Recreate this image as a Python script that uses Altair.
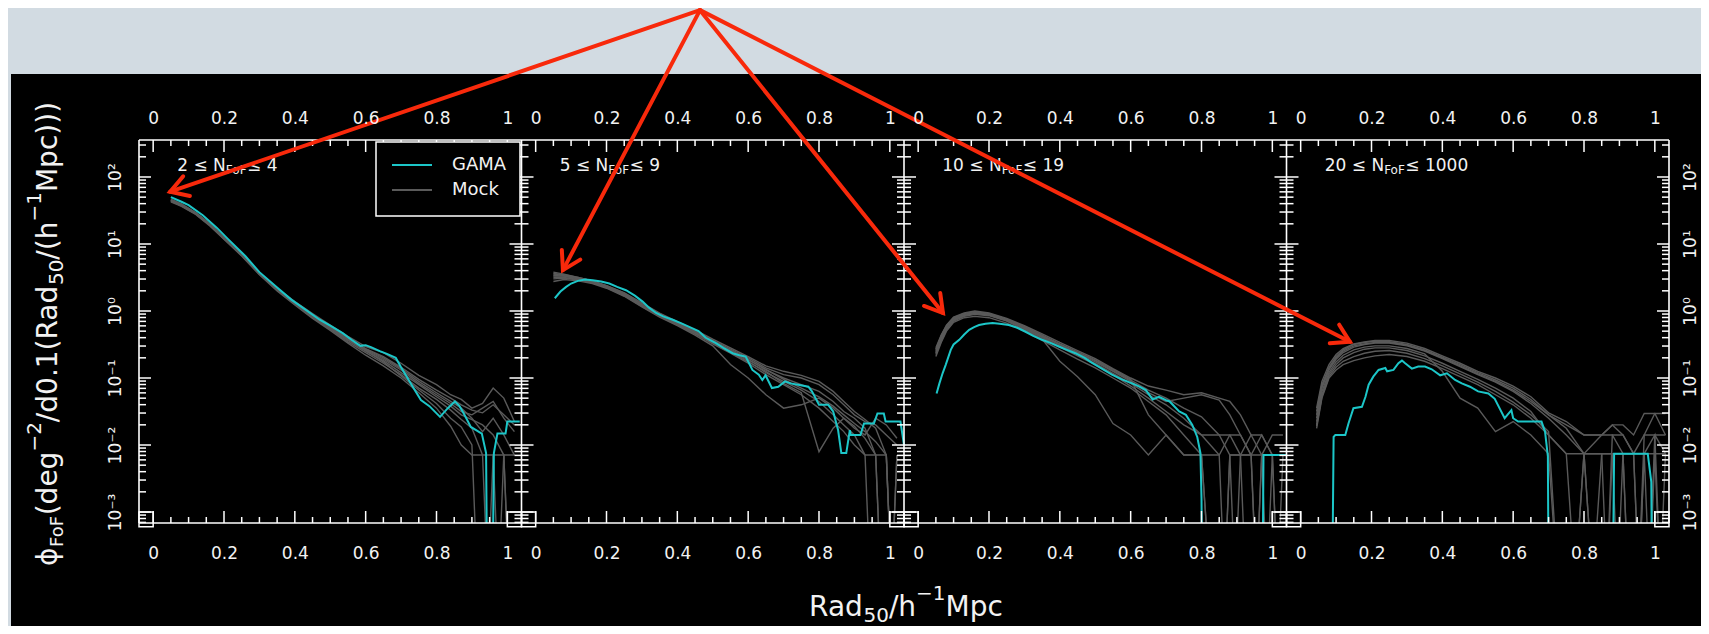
import math
import altair as alt
import pandas as pd

# ---------------- values ----------------
panel_lo = ["2", "5", "10", "20"]
panel_hi = ["4", "9", "19", "1000"]
xtick_major = [0.0, 0.2, 0.4, 0.6, 0.8, 1.0]
xtick_minor = [0.05, 0.1, 0.15, 0.25, 0.3, 0.35, 0.45, 0.5, 0.55, 0.65, 0.7, 0.75, 0.85, 0.9, 0.95]
ytick_exp = [-3, -2, -1, 0, 1, 2]
ytick_labels = ["10⁻³", "10⁻²", "10⁻¹", "10⁰", "10¹", "10²"]
legend_labels = ["GAMA", "Mock"]

# GAMA curves: Rad50 and log10(phi); -6 marks an empty bin (drops below the axis)
gama_x = [
    [0.05, 0.08, 0.10, 0.14, 0.18, 0.21, 0.26, 0.30, 0.35, 0.39, 0.43, 0.47, 0.50, 0.535, 0.56, 0.585, 0.60, 0.615, 0.64, 0.66,
     0.685, 0.70, 0.716, 0.735, 0.756, 0.78, 0.81, 0.832, 0.852, 0.865, 0.877, 0.897, 0.928, 0.94, 0.946, 0.955, 0.962, 0.972, 0.995, 1.0, 1.035],
    [0.054, 0.07, 0.086, 0.10, 0.119, 0.14, 0.161, 0.185, 0.208, 0.23, 0.255, 0.28, 0.302, 0.32, 0.34, 0.36, 0.387, 0.41, 0.443, 0.46,
     0.48, 0.509, 0.53, 0.556, 0.575, 0.593, 0.612, 0.63, 0.64, 0.649, 0.667, 0.685, 0.704, 0.72, 0.741, 0.77, 0.78, 0.80, 0.826, 0.84,
     0.854, 0.863, 0.877, 0.887, 0.89, 0.917, 0.927, 0.955, 0.965, 0.983, 0.988, 1.02, 1.03, 1.04],
    [0.052, 0.06, 0.069, 0.078, 0.092, 0.10, 0.116, 0.13, 0.144, 0.158, 0.172, 0.19, 0.21, 0.23, 0.256, 0.28, 0.303, 0.325, 0.35, 0.375,
     0.397, 0.42, 0.444, 0.47, 0.49, 0.515, 0.547, 0.575, 0.604, 0.625, 0.643, 0.662, 0.68, 0.70, 0.71, 0.737, 0.756, 0.774, 0.788, 0.797,
     0.80, 0.805, 0.97, 0.975, 1.04],
    [0.086, 0.093, 0.098, 0.126, 0.135, 0.149, 0.173, 0.183, 0.192, 0.205, 0.22, 0.239, 0.244, 0.262, 0.276, 0.286, 0.295, 0.314, 0.332, 0.351,
     0.37, 0.394, 0.413, 0.436, 0.455, 0.478, 0.501, 0.53, 0.548, 0.576, 0.595, 0.60, 0.614, 0.68, 0.69, 0.698, 0.702, 0.878, 0.885, 0.98,
     0.99, 0.995],
]
gama_lg = [
    [1.70, 1.63, 1.58, 1.43, 1.24, 1.08, 0.82, 0.58, 0.35, 0.17, 0.02, -0.13, -0.22, -0.33, -0.43, -0.52, -0.51, -0.54, -0.60, -0.64,
     -0.70, -0.84, -0.98, -1.15, -1.33, -1.42, -1.58, -1.45, -1.35, -1.42, -1.53, -1.73, -1.83, -2.12, -6, -6, -2.12, -1.83, -1.83, -1.65, -1.65],
    [0.19, 0.29, 0.36, 0.41, 0.45, 0.47, 0.46, 0.44, 0.41, 0.36, 0.31, 0.23, 0.14, 0.05, -0.03, -0.08, -0.13, -0.18, -0.26, -0.30,
     -0.40, -0.48, -0.55, -0.63, -0.66, -0.68, -0.88, -0.95, -1.03, -0.96, -1.15, -1.13, -1.05, -1.08, -1.10, -1.13, -1.20, -1.40, -1.40, -1.50,
     -1.78, -2.12, -2.12, -1.78, -1.85, -1.85, -1.68, -1.68, -1.53, -1.53, -1.65, -1.65, -1.65, -2.0],
    [-1.23, -1.08, -0.93, -0.80, -0.58, -0.50, -0.43, -0.35, -0.28, -0.24, -0.21, -0.19, -0.18, -0.19, -0.21, -0.25, -0.31, -0.37, -0.43, -0.48,
     -0.53, -0.58, -0.63, -0.70, -0.77, -0.85, -0.95, -1.02, -1.08, -1.13, -1.18, -1.32, -1.28, -1.33, -1.35, -1.50, -1.55, -1.70, -1.88, -2.12,
     -2.8, -6, -6, -2.15, -2.15],
    [-6, -1.88, -1.85, -1.85, -1.68, -1.45, -1.43, -1.28, -1.10, -0.98, -0.88, -0.85, -0.90, -0.88, -0.78, -0.74, -0.78, -0.86, -0.83, -0.83,
     -0.87, -0.96, -0.93, -1.03, -1.08, -1.13, -1.20, -1.23, -1.31, -1.60, -1.48, -1.60, -1.65, -1.65, -1.80, -2.17, -6, -6, -2.13, -2.13,
     -2.55, -6],
]

# Mock catalogues: eight lines per panel, log10(phi) at a shared Rad50 grid
mock_x = [
    [0.05, 0.08, 0.12, 0.16, 0.20, 0.25, 0.30, 0.35, 0.40, 0.45, 0.50, 0.55, 0.60, 0.65, 0.70, 0.75, 0.80, 0.84, 0.87, 0.90, 0.93, 0.96, 0.99, 1.02],
    [0.05, 0.08, 0.12, 0.16, 0.20, 0.25, 0.30, 0.35, 0.40, 0.45, 0.50, 0.55, 0.60, 0.65, 0.70, 0.75, 0.80, 0.84, 0.87, 0.90, 0.93, 0.96, 0.99, 1.02],
    [0.05, 0.065, 0.08, 0.10, 0.13, 0.16, 0.20, 0.25, 0.30, 0.35, 0.40, 0.45, 0.50, 0.55, 0.60, 0.65, 0.70, 0.75, 0.80, 0.85, 0.88, 0.91, 0.94, 0.97, 1.00, 1.03],
    [0.045, 0.06, 0.08, 0.10, 0.12, 0.15, 0.18, 0.21, 0.25, 0.30, 0.35, 0.40, 0.45, 0.50, 0.55, 0.60, 0.65, 0.70, 0.75, 0.80, 0.85, 0.88, 0.91, 0.94, 0.97, 1.00, 1.03],
]
mock_lg = [
    [
        [1.66, 1.58, 1.46, 1.29, 1.09, 0.84, 0.56, 0.33, 0.12, -0.07, -0.24, -0.42, -0.56, -0.68, -0.84, -1.02, -1.18, -1.30, -1.40, -1.48, -1.52, -1.40, -1.55, -1.70],
        [1.64, 1.57, 1.45, 1.28, 1.08, 0.83, 0.55, 0.31, 0.10, -0.10, -0.27, -0.46, -0.62, -0.78, -0.95, -1.15, -1.32, -1.48, -1.62, -1.75, -2.15, -2.15, -6, -6],
        [1.67, 1.60, 1.47, 1.30, 1.10, 0.85, 0.57, 0.34, 0.14, -0.04, -0.21, -0.38, -0.53, -0.62, -0.78, -0.96, -1.10, -1.25, -1.32, -1.45, -1.38, -1.15, -1.30, -1.65],
        [1.65, 1.58, 1.46, 1.29, 1.09, 0.84, 0.56, 0.32, 0.11, -0.08, -0.26, -0.44, -0.60, -0.74, -0.92, -1.10, -1.28, -1.42, -1.55, -1.62, -1.70, -1.85, -2.15, -6],
        [1.63, 1.56, 1.44, 1.27, 1.07, 0.82, 0.54, 0.30, 0.09, -0.11, -0.29, -0.48, -0.66, -0.82, -1.00, -1.22, -1.45, -1.72, -2.00, -2.15, -2.15, -6, -2.15, -2.15],
        [1.66, 1.59, 1.47, 1.30, 1.10, 0.85, 0.57, 0.33, 0.13, -0.05, -0.23, -0.41, -0.57, -0.70, -0.86, -1.05, -1.22, -1.35, -1.45, -1.60, -1.80, -1.60, -1.85, -2.15],
        [1.64, 1.57, 1.45, 1.28, 1.08, 0.83, 0.55, 0.32, 0.11, -0.09, -0.25, -0.43, -0.58, -0.72, -0.88, -1.08, -1.25, -1.38, -1.50, -1.55, -1.45, -1.35, -1.60, -1.80],
        [1.65, 1.58, 1.46, 1.29, 1.09, 0.84, 0.56, 0.33, 0.12, -0.06, -0.24, -0.42, -0.59, -0.76, -0.97, -1.18, -1.38, -1.60, -1.73, -2.00, -6, -2.15, -2.15, -6],
    ],
    [
        [0.58, 0.55, 0.50, 0.45, 0.38, 0.27, 0.11, -0.04, -0.17, -0.29, -0.44, -0.57, -0.70, -0.85, -0.95, -1.00, -1.10, -1.25, -1.40, -1.55, -1.65, -1.70, -1.85, -2.0],
        [0.52, 0.52, 0.48, 0.43, 0.36, 0.25, 0.09, -0.06, -0.19, -0.32, -0.47, -0.60, -0.75, -0.92, -1.05, -1.18, -1.35, -1.55, -1.70, -1.85, -2.15, -6, -6, -2.15],
        [0.55, 0.53, 0.49, 0.44, 0.37, 0.26, 0.10, -0.05, -0.18, -0.30, -0.45, -0.58, -0.72, -0.88, -1.00, -1.10, -1.20, -1.35, -1.50, -1.60, -1.75, -2.15, -6, -6],
        [0.48, 0.49, 0.46, 0.42, 0.35, 0.23, 0.07, -0.08, -0.21, -0.34, -0.49, -0.63, -0.78, -0.95, -1.10, -1.25, -1.45, -1.65, -1.80, -2.0, -2.15, -2.15, -6, -2.15],
        [0.44, 0.47, 0.45, 0.41, 0.34, 0.22, 0.06, -0.09, -0.22, -0.36, -0.52, -0.80, -1.00, -1.25, -1.45, -1.40, -1.30, -1.45, -1.60, -1.75, -1.85, -1.60, -1.70, -1.90],
        [0.56, 0.54, 0.50, 0.45, 0.38, 0.27, 0.12, -0.03, -0.16, -0.28, -0.42, -0.55, -0.68, -0.82, -0.90, -0.96, -1.05, -1.20, -1.35, -1.50, -1.62, -1.75, -2.15, -6],
        [0.50, 0.50, 0.47, 0.43, 0.36, 0.24, 0.08, -0.07, -0.20, -0.33, -0.48, -0.62, -0.76, -0.90, -1.08, -1.22, -2.10, -1.75, -1.60, -1.72, -1.90, -2.15, -2.15, -6],
        [0.53, 0.52, 0.48, 0.44, 0.37, 0.25, 0.09, -0.06, -0.19, -0.31, -0.46, -0.59, -0.73, -0.87, -1.02, -1.15, -1.28, -1.42, -1.55, -1.68, -1.80, -1.95, -2.15, -6],
    ],
    [
        [-0.55, -0.36, -0.21, -0.09, -0.03, 0.00, -0.03, -0.11, -0.22, -0.34, -0.47, -0.59, -0.71, -0.86, -1.00, -1.12, -1.18, -1.25, -1.22, -1.30, -1.35, -1.55, -1.85, -1.85, -2.15, -2.15],
        [-0.62, -0.42, -0.26, -0.13, -0.06, -0.03, -0.06, -0.14, -0.27, -0.40, -0.53, -0.65, -0.78, -0.93, -1.08, -1.25, -1.40, -1.60, -1.85, -2.15, -6, -2.15, -2.15, -6, -6, -2.15],
        [-0.68, -0.47, -0.30, -0.17, -0.10, -0.08, -0.10, -0.18, -0.30, -0.44, -0.58, -0.72, -0.85, -1.00, -1.15, -1.35, -1.55, -1.85, -2.15, -2.15, -1.85, -1.85, -2.15, -6, -2.15, -6],
        [-0.58, -0.38, -0.23, -0.11, -0.05, -0.02, -0.05, -0.12, -0.24, -0.37, -0.50, -0.62, -0.74, -0.89, -1.03, -1.18, -1.30, -1.45, -1.58, -1.85, -1.85, -2.15, -6, -2.15, -2.15, -2.15],
        [-0.65, -0.45, -0.28, -0.15, -0.08, -0.05, -0.07, -0.15, -0.28, -0.42, -0.75, -0.98, -1.25, -1.68, -1.85, -2.15, -1.85, -2.15, -2.15, -6, -2.15, -6, -6, -2.15, -1.85, -1.85],
        [-0.60, -0.40, -0.24, -0.12, -0.06, -0.03, -0.05, -0.13, -0.25, -0.38, -0.51, -0.63, -0.76, -0.90, -1.05, -1.22, -1.35, -1.30, -1.25, -1.33, -1.55, -1.85, -2.15, -2.15, -6, -6],
        [-0.63, -0.43, -0.27, -0.14, -0.07, -0.04, -0.06, -0.14, -0.26, -0.39, -0.54, -0.67, -0.80, -0.95, -1.12, -1.30, -1.50, -1.70, -1.85, -1.85, -2.15, -2.15, -1.85, -2.15, -2.15, -6],
        [-0.57, -0.37, -0.22, -0.10, -0.04, -0.01, -0.04, -0.12, -0.23, -0.36, -0.49, -0.61, -0.73, -0.87, -1.02, -1.55, -1.85, -2.15, -2.15, -6, -2.15, -2.15, -2.15, -1.85, -2.15, -2.15],
    ],
    [
        [-1.45, -1.05, -0.80, -0.65, -0.56, -0.49, -0.46, -0.44, -0.44, -0.48, -0.56, -0.67, -0.78, -0.90, -1.00, -1.12, -1.28, -1.52, -1.65, -1.85, -1.85, -1.70, -1.70, -1.85, -1.53, -1.53, -1.85],
        [-1.60, -1.15, -0.88, -0.72, -0.62, -0.54, -0.50, -0.48, -0.48, -0.52, -0.60, -0.71, -0.83, -0.95, -1.06, -1.20, -1.38, -1.60, -1.85, -2.13, -6, -1.85, -1.85, -2.13, -2.13, -1.85, -6],
        [-1.70, -1.25, -0.95, -0.80, -0.70, -0.62, -0.57, -0.55, -0.55, -0.59, -0.67, -0.78, -0.90, -1.02, -1.15, -1.30, -1.50, -1.85, -2.13, -6, -2.13, -2.13, -6, -6, -2.13, -2.13, -2.13],
        [-1.75, -1.30, -1.00, -0.88, -0.80, -0.74, -0.70, -0.67, -0.65, -0.68, -0.75, -0.86, -0.98, -1.10, -1.25, -1.40, -1.60, -1.85, -2.13, -2.13, -2.13, -6, -2.13, -2.13, -6, -1.85, -1.85],
        [-1.50, -1.10, -0.84, -0.68, -0.58, -0.50, -0.47, -0.45, -0.46, -0.50, -0.58, -0.69, -0.80, -0.92, -1.03, -1.15, -1.32, -1.55, -1.70, -1.85, -1.85, -1.85, -2.13, -6, -1.85, -1.85, -2.13],
        [-1.65, -1.20, -0.92, -0.76, -0.66, -0.58, -0.54, -0.52, -0.52, -0.56, -0.64, -0.90, -1.30, -1.45, -1.80, -1.65, -1.85, -2.13, -6, -2.13, -2.13, -2.13, -2.13, -2.13, -6, -2.13, -6],
        [-1.55, -1.12, -0.86, -0.70, -0.60, -0.52, -0.49, -0.47, -0.47, -0.51, -0.59, -0.70, -0.82, -0.94, -1.05, -1.18, -1.35, -1.55, -1.75, -2.13, -1.85, -1.70, -1.85, -2.13, -1.85, -1.53, -1.53],
        [-1.72, -1.28, -0.98, -0.84, -0.75, -0.68, -0.63, -0.60, -0.59, -0.63, -0.71, -0.82, -0.94, -1.06, -1.20, -1.36, -1.55, -1.80, -6, -2.13, -6, -2.13, -2.13, -6, -2.13, -6, -2.13],
    ],
]

# red annotation arrows: common apex (panel-strip x, log10 phi) and tips (panel, Rad50, log10 phi)
arrow_apex = [1.544, 4.49]
arrow_panel = [0, 1, 2, 3]
arrow_tip_x = [0.048, 0.077, 0.070, 0.139]
arrow_tip_lg = [1.78, 0.61, -0.03, -0.46]

# ---------------- layout / style ----------------
W, H = 1530, 383
SPAN = 1.08
X0 = -0.04
XDOM = [-0.04, 4 * SPAN - 0.04]
LG_LO, LG_HI = -3.164, 2.552
PXU = W / (XDOM[1] - XDOM[0])
PXD = H / (LG_HI - LG_LO)

FONT = "DejaVu Sans"
TXT = "#f2f2f2"
WHITE = "#ffffff"
RED = "#f8290b"
CYAN = "#1cc6c8"
GREY = "#5a5a5a"
BG = "#d2dbe2"

xs = alt.Scale(domain=XDOM, nice=False, zero=False)
ys = alt.Scale(type="log", domain=[10 ** LG_LO, 10 ** LG_HI], nice=False)


def X(f):
    return alt.X(f, type="quantitative", scale=xs, axis=None)


def Y(f):
    return alt.Y(f, type="quantitative", scale=ys, axis=None)


EM = {' ': 0.318, '.': 0.318, '/': 0.337, '(': 0.390, ')': 0.390, '≤': 0.838, '−': 0.838,
      'N': 0.748, 'F': 0.575, 'o': 0.612, 'R': 0.695, 'a': 0.613, 'd': 0.635, 'e': 0.615,
      'g': 0.635, 'h': 0.634, 'M': 0.863, 'p': 0.635, 'c': 0.550, 'ϕ': 0.68}


def tw(s, size):
    return sum(EM.get(ch, 0.636) for ch in s) * size


one = pd.DataFrame({"x": [0.5], "y": [1.0]})
layers = []

# black slide panel behind the figure
layers.append(alt.Chart(one).mark_rect(color="#000000").encode(
    x=alt.value(-128), x2=alt.value(W + 32), y=alt.value(-66), y2=alt.value(H + 103)))

# axis labels (library axes, labels only, drawn above the marks)
ax_common = dict(domain=False, ticks=False, tickSize=0, grid=False, title=None, labelFont=FONT,
                 labelFontSize=17, labelColor=TXT, labelOverlap=False, labelFlush=False, zindex=1)
xvals = [p * SPAN + t for p in range(4) for t in xtick_major]
xlab_expr = "format(abs(datum.value - 1.08*floor((datum.value + 0.02)/1.08)), '.1~f')"
yvals = [10.0 ** k for k in ytick_exp]
ylab_expr = "'" + ytick_labels[-1] + "'"
for k, lab in reversed(list(zip(ytick_exp[:-1], ytick_labels[:-1]))):
    ylab_expr = f"datum.value < {10 ** (k + 0.5)} ? '{lab}' : ({ylab_expr})"

layers.append(alt.Chart(one).mark_point(opacity=0).encode(
    x=alt.X("x:Q", scale=xs, axis=alt.Axis(orient="top", values=xvals, labelExpr=xlab_expr,
                                             labelPadding=13, **ax_common)),
    y=alt.Y("y:Q", scale=ys, axis=alt.Axis(orient="left", values=yvals, labelExpr=ylab_expr, labelAngle=270,
                                             labelAlign="center", labelBaseline="bottom", labelPadding=15,
                                             **ax_common))))
layers.append(alt.Chart(one).mark_point(opacity=0).encode(
    x=alt.X("x:Q", scale=xs, axis=alt.Axis(orient="bottom", values=xvals, labelExpr=xlab_expr,
                                             labelPadding=22, **ax_common)),
    y=alt.Y("y:Q", scale=ys, axis=alt.Axis(orient="right", values=yvals, labelExpr=ylab_expr, labelAngle=270,
                                             labelAlign="center", labelBaseline="top", labelPadding=13,
                                             **ax_common))))

# mock lines
mrows = []
for p in range(4):
    for i, line in enumerate(mock_lg[p]):
        for x, v in zip(mock_x[p], line):
            mrows.append({"gx": p * SPAN + x, "phi": 10.0 ** v, "lid": f"m{p}_{i}"})
layers.append(alt.Chart(pd.DataFrame(mrows)).mark_line(color=GREY, strokeWidth=1.4, clip=True).encode(
    x=X("gx:Q"), y=Y("phi:Q"), detail="lid:N"))

# GAMA lines
grows = []
for p in range(4):
    for x, v in zip(gama_x[p], gama_lg[p]):
        grows.append({"gx": p * SPAN + x, "phi": 10.0 ** v, "lid": f"g{p}"})
layers.append(alt.Chart(pd.DataFrame(grows)).mark_line(color=CYAN, strokeWidth=2.0, clip=True).encode(
    x=X("gx:Q"), y=Y("phi:Q"), detail="lid:N"))

# panel frames
bounds = [p * SPAN + X0 for p in range(5)]
fr = dict(color=WHITE, strokeWidth=1.6)
layers.append(alt.Chart(pd.DataFrame({"b": bounds})).mark_rule(**fr).encode(
    x=X("b:Q"), y=alt.value(0), y2=alt.value(H)))
layers.append(alt.Chart(one).mark_rule(**fr).encode(x=alt.value(0), x2=alt.value(W), y=alt.value(0)))
layers.append(alt.Chart(one).mark_rule(**fr).encode(x=alt.value(0), x2=alt.value(W), y=alt.value(H)))

# inward ticks
tk = dict(color=WHITE, strokeWidth=1.5)
xmaj = pd.DataFrame({"gx": [p * SPAN + t for p in range(4) for t in xtick_major]})
xmin = pd.DataFrame({"gx": [p * SPAN + t for p in range(4) for t in xtick_minor]})
for df, L in ((xmaj, 12), (xmin, 6)):
    layers.append(alt.Chart(df).mark_rule(**tk).encode(x=X("gx:Q"), y=alt.value(0), y2=alt.value(L)))
    layers.append(alt.Chart(df).mark_rule(**tk).encode(x=X("gx:Q"), y=alt.value(H), y2=alt.value(H - L)))

ymaj_vals = [10.0 ** k for k in ytick_exp]
ymin_vals = [m * 10.0 ** k for k in range(-4, 3) for m in range(2, 10)
             if LG_LO <= math.log10(m * 10.0 ** k) <= LG_HI]
for vals, L in ((ymaj_vals, 12), (ymin_vals, 7)):
    left_df = pd.DataFrame([{"b": b, "v": v} for b in bounds[:4] for v in vals])
    right_df = pd.DataFrame([{"b": b, "v": v} for b in bounds[1:] for v in vals])
    layers.append(alt.Chart(left_df).mark_rule(x2Offset=L, **tk).encode(
        x=X("b:Q"), x2=alt.X2("b:Q"), y=Y("v:Q")))
    layers.append(alt.Chart(right_df).mark_rule(x2Offset=-L, **tk).encode(
        x=X("b:Q"), x2=alt.X2("b:Q"), y=Y("v:Q")))

# small boxes at the lower corners of every panel
crow = []
for p in range(4):
    crow.append({"x1": p * SPAN - 0.04, "x2": p * SPAN, "y1": 1e-3, "y2": 10 ** -3.22})
    crow.append({"x1": p * SPAN + 1.0, "x2": p * SPAN + 1.04, "y1": 1e-3, "y2": 10 ** -3.22})
layers.append(alt.Chart(pd.DataFrame(crow)).mark_rect(filled=False, color=WHITE, strokeWidth=1.5).encode(
    x=X("x1:Q"), x2=alt.X2("x2:Q"), y=Y("y1:Q"), y2=alt.Y2("y2:Q")))

# panel labels  "lo ≤ N_FoF ≤ hi"
lrows = []
for p in range(4):
    a = f"{panel_lo[p]} ≤ N"
    c = f" ≤ {panel_hi[p]}"
    xa = p * SPAN + 0.068
    xb = xa + tw(a, 17) / PXU
    xc = xb + tw("FoF", 12) / PXU
    lrows.append({"xa": xa, "xb": xb, "xc": xc, "a": a, "b": "FoF", "c": c})
ldf = pd.DataFrame(lrows)
txt = dict(font=FONT, color=TXT, align="left", baseline="alphabetic")
layers.append(alt.Chart(ldf).mark_text(fontSize=17, **txt).encode(x=X("xa:Q"), y=alt.value(31), text="a:N"))
layers.append(alt.Chart(ldf).mark_text(fontSize=12, **txt).encode(x=X("xb:Q"), y=alt.value(34), text="b:N"))
layers.append(alt.Chart(ldf).mark_text(fontSize=17, **txt).encode(x=X("xc:Q"), y=alt.value(31), text="c:N"))

# legend box
layers.append(alt.Chart(one).mark_rect(color="#000000", stroke=WHITE, strokeWidth=1.5).encode(
    x=alt.value(237), x2=alt.value(381), y=alt.value(2), y2=alt.value(76)))
leg = pd.DataFrame({"label": legend_labels, "ly": [25 + 25 * i for i in range(len(legend_labels))]})
layers.append(alt.Chart(leg.iloc[[0]]).mark_rule(color=CYAN, strokeWidth=2.2).encode(
    x=alt.value(253), x2=alt.value(293), y=alt.Y("ly:Q", scale=None)))
layers.append(alt.Chart(leg.iloc[[1]]).mark_rule(color=GREY, strokeWidth=2.2).encode(
    x=alt.value(253), x2=alt.value(293), y=alt.Y("ly:Q", scale=None)))
layers.append(alt.Chart(leg).mark_text(font=FONT, fontSize=18, color=TXT, align="left", baseline="middle").encode(
    x=alt.value(313), y=alt.Y("ly:Q", scale=None), text="label:N"))

# axis titles built from segments (sub/superscripts)
ytitle_parts = [("ϕ", 28, 0), ("FoF", 18, 6), ("(deg", 28, 0), ("−2", 20, -16), ("/d0.1(Rad", 28, 0),
                ("50", 20, 6), ("/(h", 28, 0), ("−1", 20, -16), ("Mpc)))", 28, 0)]
xtitle_parts = [("Rad", 28, 0), ("50", 20, 6), ("/h", 28, 0), ("−1", 20, -16), ("Mpc", 28, 0)]


def title_layers(parts, ax, ay, angle):
    total = sum(tw(s, z) for s, z, _ in parts)
    off = -total / 2
    out = []
    for s, z, d in parts:
        kw = dict(font=FONT, fontSize=z, color=TXT, align="left", baseline="alphabetic", dx=off, dy=d)
        if angle:
            kw["angle"] = angle
        out.append(alt.Chart(pd.DataFrame({"t": [s]})).mark_text(**kw).encode(
            x=alt.value(ax), y=alt.value(ay), text="t:N"))
        off += tw(s, z)
    return out


layers += title_layers(ytitle_parts, -82, 194, 270)
layers += title_layers(xtitle_parts, 767, 476, 0)

# arrows
arows = []
ax_px = (arrow_apex[0] - XDOM[0]) * PXU
ay_px = (LG_HI - arrow_apex[1]) * PXD
for p, x, lg in zip(arrow_panel, arrow_tip_x, arrow_tip_lg):
    gx = p * SPAN + x
    tx_px = (gx - XDOM[0]) * PXU
    ty_px = (LG_HI - lg) * PXD
    ang = math.degrees(math.atan2(ty_px - ay_px, tx_px - ax_px)) % 360
    arows.append({"ax": arrow_apex[0], "ay": 10 ** arrow_apex[1], "tx": gx, "ty": 10 ** lg, "ang": ang})
adf = pd.DataFrame(arows)
layers.append(alt.Chart(adf).mark_rule(color=RED, strokeWidth=4, strokeCap="round").encode(
    x=X("ax:Q"), y=Y("ay:Q"), x2=alt.X2("tx:Q"), y2=alt.Y2("ty:Q")))
layers.append(alt.Chart(adf).mark_point(shape="M -1 -0.6 L 0 0 L -1 0.6", filled=False, color=RED,
                                        strokeWidth=4, size=1200, opacity=1, strokeCap="round",
                                        strokeJoin="miter").encode(
    x=X("tx:Q"), y=Y("ty:Q"), angle=alt.Angle("ang:Q", scale=None)))

chart = alt.layer(*layers).resolve_axis(x="independent", y="independent").properties(
    width=W, height=H,
    autosize=alt.AutoSizeParams(type="none"),
    padding={"left": 131, "top": 132, "right": 32, "bottom": 103},
    background=BG,
).configure_view(strokeWidth=0)

chart.save("out.html", embed_options={"renderer": "svg", "actions": False})
